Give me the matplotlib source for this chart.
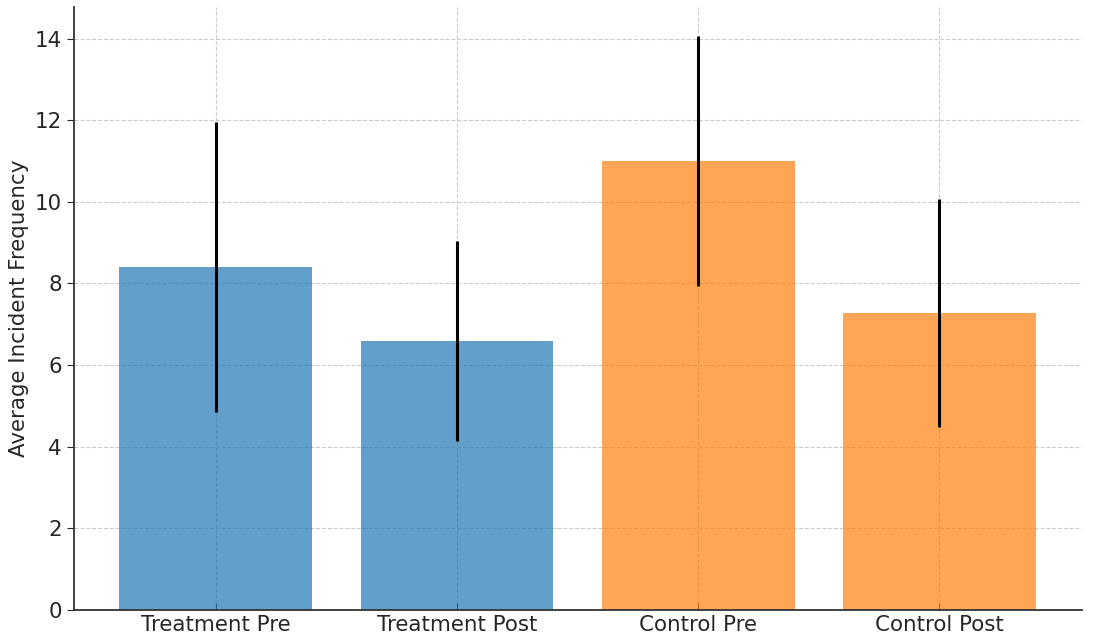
import matplotlib.pyplot as plt

# Data
groups = ['Treatment Pre', 'Treatment Post', 'Control Pre', 'Control Post']
means = [8.4, 6.6, 11.0, 7.28]
errors = [3.55, 2.45, 3.07, 2.79]
colors = ['tab:blue', 'tab:blue', 'tab:orange', 'tab:orange']

fig = plt.figure(figsize=(11.15, 6.38), dpi=100)
ax = fig.add_axes([0.066, 0.044, 0.904, 0.945])

ax.bar(groups, means, yerr=errors, color=colors, alpha=0.7,
       error_kw=dict(ecolor='black', elinewidth=2.2, capsize=0))

ax.set_ylabel('Average Incident Frequency', fontsize=15.4, color='#262626')
ax.tick_params(axis='y', labelsize=15.4, colors='#262626', length=5)
ax.tick_params(axis='x', labelsize=15.4, colors='#262626', direction='in', length=5)
ax.grid(True, linestyle='--', color='#cccccc', linewidth=0.8)
ax.set_axisbelow(True)
for side in ['top', 'right']:
    ax.spines[side].set_visible(False)
for side in ['left', 'bottom']:
    ax.spines[side].set_color('#333333')
    ax.spines[side].set_linewidth(1.3)

fig.savefig('out.png', dpi=100)
